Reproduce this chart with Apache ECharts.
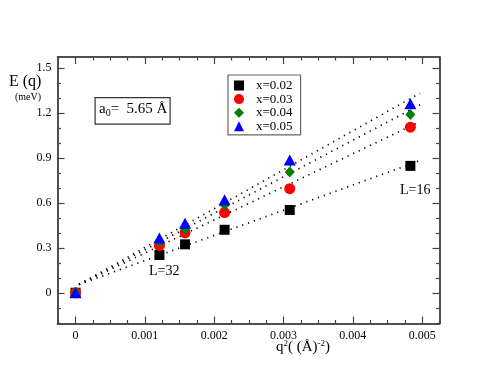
<!DOCTYPE html>
<html>
<head>
<meta charset="utf-8">
<script src="https://cdn.jsdelivr.net/npm/echarts@6/dist/echarts.min.js"></script>
<style>
  html, body { margin: 0; padding: 0; background: #fff; }
  #chart { width: 494px; height: 382px; }
</style>
</head>
<body>
<div id="chart"></div>
<script>
'use strict';

// q^2 values (A^-2) for L = 32, 28, 24, 20, 16 plus origin
const q2 = [0, 0.00121, 0.00158, 0.00215, 0.00309, 0.00483];
const e002 = [0, 0.252, 0.323, 0.42, 0.552, 0.846];
const e003 = [0, 0.314, 0.4, 0.535, 0.694, 1.104];
const e004 = [0, 0.34, 0.423, 0.585, 0.806, 1.188];
const e005 = [0, 0.365, 0.463, 0.62, 0.886, 1.26];

// dotted fit lines, end points
const fitX = [0.00005, 0.00497];
const fit002 = [0.055, 0.881];
const fit003 = [0.055, 1.141];
const fit004 = [0.055, 1.253];
const fit005 = [0.055, 1.331];

const seriesNames = ['x=0.02', 'x=0.03', 'x=0.04', 'x=0.05'];

// ticks
const xMajor = [0, 0.001, 0.002, 0.003, 0.004, 0.005];
const xMinor = [-0.00025, 0.00025, 0.0005, 0.00075, 0.00125, 0.0015, 0.00175,
  0.00225, 0.0025, 0.00275, 0.00325, 0.0035, 0.00375, 0.00425, 0.0045, 0.00475, 0.00525];
const yMajor = [0, 0.3, 0.6, 0.9, 1.2, 1.5];
const yMinor = [-0.2, -0.1, 0.1, 0.2, 0.4, 0.5, 0.7, 0.8, 1.0, 1.1, 1.3, 1.4];

const FONT = '"Liberation Serif", "DejaVu Serif", serif';
const AXIS_COLOR = '#444';

const pairs = (xs, ys) => xs.map((x, i) => [x, ys[i]]);

const xBase = {
  type: 'value',
  min: -0.00026,
  max: 0.00525,
  splitLine: { show: false },
  axisLine: { show: true, onZero: false, lineStyle: { color: AXIS_COLOR, width: 1.5 } },
};
const yBase = {
  type: 'value',
  min: -0.205,
  max: 1.572,
  splitLine: { show: false },
  axisLine: { show: true, onZero: false, lineStyle: { color: AXIS_COLOR, width: 1.5 } },
};

// major + minor tick axes for each side (labels only on the first side)
const makeAxes = (base, major, minor, sides, fmt) => {
  const axes = [];
  sides.forEach((side, k) => {
    axes.push(Object.assign({}, base, {
      position: side,
      axisTick: { show: true, inside: true, length: 7, customValues: major,
        lineStyle: { color: AXIS_COLOR, width: 1.2 } },
      axisLabel: k === 0 ? {
        show: true, customValues: major, formatter: fmt, margin: 6,
        color: '#000', fontFamily: FONT, fontSize: 12,
      } : { show: false },
    }));
    axes.push(Object.assign({}, base, {
      position: side,
      axisTick: { show: true, inside: true, length: 3.5, customValues: minor,
        lineStyle: { color: AXIS_COLOR, width: 1.2 } },
      axisLabel: { show: false },
    }));
  });
  return axes;
};

const chart = echarts.init(document.getElementById('chart'));

const fitLine = (ys) => ({
  type: 'line',
  data: pairs(fitX, ys),
  symbol: 'none',
  silent: true,
  z: 1,
  lineStyle: { color: '#000', width: 1.7, type: [1.2, 5], cap: 'butt' },
});

const scatter = (name, ys, symbol, size, color) => ({
  name,
  type: 'scatter',
  data: pairs(q2, ys),
  symbol,
  symbolSize: size,
  z: 3,
  itemStyle: { color, opacity: 1 },
});

chart.setOption({
  animation: false,
  backgroundColor: '#fff',
  grid: { left: 57.5, right: 54.5, top: 57, bottom: 58.5 },
  xAxis: makeAxes(xBase, xMajor, xMinor, ['bottom', 'top'],
    (v) => (v === 0 ? '0' : v.toFixed(3))),
  yAxis: makeAxes(yBase, yMajor, yMinor, ['left', 'right'],
    (v) => (v === 0 ? '0' : v.toFixed(1))),
  legend: {
    data: seriesNames,
    orient: 'vertical',
    left: 228,
    top: 75,
    padding: [4, 8, 2, 6],
    itemGap: 0.6,
    itemWidth: 10,
    itemHeight: 10,
    borderColor: '#666',
    borderWidth: 1.2,
    borderRadius: 0,
    selectedMode: false,
    textStyle: { fontFamily: FONT, fontSize: 13, color: '#000', padding: [0, 0, 0, 7] },
  },
  series: [
    fitLine(fit002),
    fitLine(fit003),
    fitLine(fit004),
    fitLine(fit005),
    scatter(seriesNames[0], e002, 'rect', [10, 10], '#000'),
    scatter(seriesNames[1], e003, 'circle', 11, '#ff0000'),
    scatter(seriesNames[2], e004, 'diamond', [10, 11], '#008000'),
    scatter(seriesNames[3], e005, 'triangle', [12, 11], '#0000ff'),
  ],
  graphic: [
    {
      type: 'text', left: 9, top: 74,
      style: { text: 'E (q)', font: '16px ' + FONT, fill: '#000' },
    },
    {
      type: 'text', left: 15, top: 92,
      style: { text: '(meV)', font: '10px ' + FONT, fill: '#000' },
    },
    {
      type: 'rect', left: 94.5, top: 97,
      shape: { width: 75, height: 26.5 },
      style: { fill: '#fff', stroke: '#333', lineWidth: 1.2 },
    },
    {
      type: 'text', left: 99, top: 102,
      style: {
        text: '{a|a}{s|0}{a|=  5.65 Å}',
        rich: {
          a: { font: '15px ' + FONT, fill: '#000' },
          s: { font: '10px ' + FONT, fill: '#000', padding: [8, 0, 0, 0] },
        },
      },
    },
    {
      type: 'text', left: 149, top: 264,
      style: { text: 'L=32', font: '14px ' + FONT, fill: '#000' },
    },
    {
      type: 'text', left: 400, top: 183,
      style: { text: 'L=16', font: '14px ' + FONT, fill: '#000' },
    },
    {
      type: 'text', left: 276, top: 339,
      style: {
        text: '{a|q}{s|2}{a|( (Å)}{s|-2}{a|)}',
        rich: {
          a: { font: '15px ' + FONT, fill: '#000' },
          s: { font: '9px ' + FONT, fill: '#000', padding: [0, 0, 8, 0] },
        },
      },
    },
  ],
});
</script>
</body>
</html>
